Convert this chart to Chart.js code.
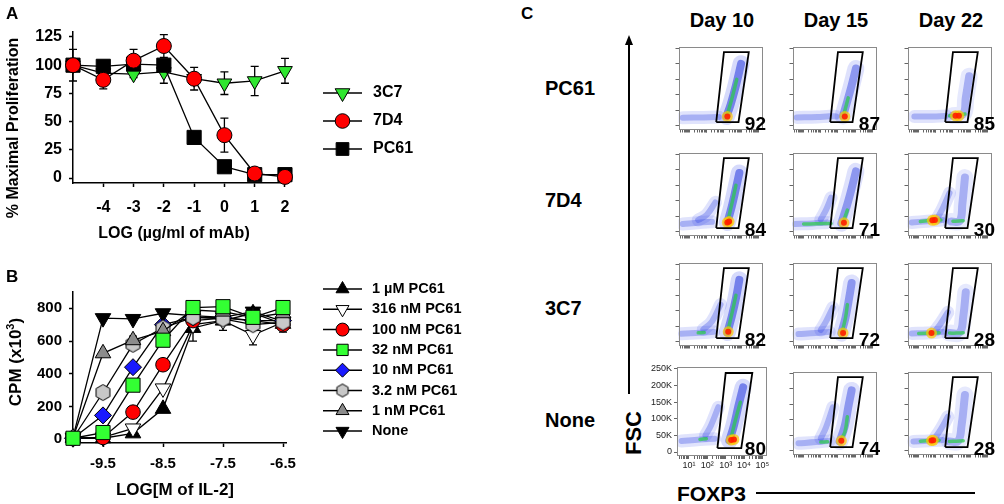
<!DOCTYPE html>
<html><head><meta charset="utf-8">
<script src="https://cdn.jsdelivr.net/npm/chart.js@4"></script>
<style>
body{margin:0;width:1004px;height:504px;background:#fff;position:relative;overflow:hidden;font-family:"Liberation Sans",Arial,sans-serif;font-weight:bold;color:#000}
canvas{position:absolute}
.t{position:absolute;white-space:nowrap;line-height:1}
.c{transform:translate(-50%,-50%)}
.r{transform:translate(-50%,-50%) rotate(-90deg)}
sup{font-size:65%;line-height:0;vertical-align:0.55em}
</style></head><body>
<canvas id="cA" width="440" height="250" style="left:0;top:0"></canvas>
<canvas id="cB" width="480" height="254" style="left:0;top:250px"></canvas>
<div class="t" style="left:6px;top:5px;font-size:17px">A</div>
<div class="t" style="left:6px;top:268px;font-size:17px">B</div>
<div class="t" style="left:521px;top:5px;font-size:17px">C</div>
<div class="t r" style="left:13px;top:128px;font-size:16px">% Maximal Proliferation</div>
<div class="t c" style="left:174px;top:233px;font-size:16px">LOG (µg/ml of mAb)</div>
<div class="t r" style="left:15px;top:362px;font-size:17px">CPM (x10<sup>3</sup>)</div>
<div class="t c" style="left:175px;top:489px;font-size:17px">LOG[M of IL-2]</div>
<div class="t r" style="left:634px;top:433px;font-size:22px">FSC</div>
<div class="t" style="left:677px;top:483px;font-size:21px">FOXP3</div>
<div style="position:absolute;left:756px;top:492px;width:219px;height:1.5px;background:#000"></div>
<div style="position:absolute;left:628px;top:44px;width:1.5px;height:350px;background:#000"></div>
<div style="position:absolute;left:624.7px;top:35px;width:0;height:0;border-left:4px solid transparent;border-right:4px solid transparent;border-bottom:10px solid #000"></div>
<div id="flow"></div>
<script>
// ---------- Panel A data ----------
const aX = [-5, -4, -3, -2, -1, 0, 1, 2];
const aXTicks = [-4, -3, -2, -1, 0, 1, 2];
const aYTicks = [0, 25, 50, 75, 100, 125];
const aNames = ['3C7', '7D4', 'PC61'];
const a3C7 = [100, 93, 92, 94, 88, 84, 86, 95];
const a7D4 = [100, 87, 104, 117, 88, 38, 4, 1];
const aPC61 = [100, 99, 101, 100, 36, 10, 3, 3];
const a3C7Err = [0, 4, 3, 10, 0, 10, 13, 11];
const a7D4Err = [14, 8, 10, 10, 10, 15, 0, 0];
const aPC61Err = [0, 0, 0, 0, 0, 0, 0, 0];

// ---------- Panel B data ----------
const bX = [-10, -9.5, -9, -8.5, -8, -7.5, -7, -6.5];
const bXTicks = [-9.5, -8.5, -7.5, -6.5];
const bYTicks = [0, 200, 400, 600, 800];
const bNames = ['1 µM PC61', '316 nM PC61', '100 nM PC61', '32 nM PC61', '10 nM PC61', '3.2 nM PC61', '1 nM PC61', 'None'];
const b1uM  = [5, 5, 35, 185, 680, 725, 770, 705];
const b316  = [5, 10, 65, 310, 700, 725, 637, 715];
const b100  = [5, 10, 165, 455, 725, 740, 725, 700];
const b32   = [5, 40, 330, 605, 805, 810, 745, 805];
const b10   = [5, 145, 440, 700, 745, 745, 725, 725];
const b3_2  = [5, 285, 580, 680, 745, 735, 700, 715];
const b1nM  = [10, 525, 605, 660, 790, 780, 745, 770];
const bNone = [10, 740, 735, 770, 755, 745, 780, 720];
const b1uMErr  = [0, 0, 0, 0, 0, 60, 0, 50];
const b316Err  = [0, 0, 0, 0, 100, 0, 60, 0];
const b100Err  = [0, 0, 0, 0, 0, 0, 0, 0];
const b32Err   = [0, 0, 0, 0, 0, 0, 0, 40];
const b10Err   = [0, 0, 0, 0, 0, 0, 0, 0];
const b3_2Err  = [0, 0, 0, 0, 0, 0, 0, 0];
const b1nMErr  = [0, 0, 25, 0, 0, 0, 0, 0];
const bNoneErr = [0, 0, 0, 0, 0, 0, 0, 0];

// ---------- Panel C data (x = log10 FOXP3, y = FSC in K) ----------
const rowNames = ['PC61', '7D4', '3C7', 'None'];
const dayNames = ['Day 10', 'Day 15', 'Day 22'];
const fcPct = [92, 87, 85, 84, 71, 30, 82, 72, 28, 80, 74, 28];
const gateX = [2.55, 3.85, 4.45, 3.0, 2.55];
const gateY = [12, 12, 238, 238, 12];
const fcYTicks = [0, 50, 100, 150, 200, 250];
const fcTail = [
 [[[0.6,26],[1.8,27],[2.7,28]]],
 [[[0.6,27],[1.8,28],[2.5,31],[2.9,30]]],
 [[[0.75,30],[1.8,30],[2.6,32]]],
 [[[0.6,25],[1.6,30],[2.3,32]],[[1.5,38],[2.0,55],[2.5,95]]],
 [[[0.5,25],[1.5,27],[2.4,30]],[[2.0,40],[2.3,70],[2.6,110]]],
 [[[0.6,30],[1.5,34],[2.4,38]],[[2.1,45],[2.4,75],[2.8,125]]],
 [[[0.5,26],[1.6,29],[2.4,32]],[[1.8,40],[2.3,65],[2.8,120]]],
 [[[0.7,25],[1.7,28],[2.5,32]],[[2.0,38],[2.3,65],[2.7,110]]],
 [[[0.6,27],[1.5,28],[2.4,32]],[[2.0,38],[2.3,60],[2.7,95]]],
 [[[0.6,33],[1.6,38],[2.4,40]],[[1.9,50],[2.2,80],[2.6,135]]],
 [[[0.7,24],[1.7,28],[2.5,32]],[[2.0,40],[2.3,75],[2.7,140]]],
 [[[0.7,30],[1.6,32],[2.4,35]],[[2.0,45],[2.3,70],[2.7,110]]]
];
const fcCol = [
 [[[3.15,30],[3.4,70],[3.7,130],[4.0,200]]],
 [[[3.3,32],[3.55,80],[3.8,130],[4.05,185]]],
 [[[3.0,33],[3.6,38],[3.75,90],[3.95,160]]],
 [[[3.2,30],[3.45,80],[3.7,140],[3.9,190]]],
 [[[3.2,28],[3.5,80],[3.8,140],[4.05,195]]],
 [[[2.9,33],[3.4,35],[3.55,90],[3.7,175]]],
 [[[3.2,30],[3.45,80],[3.7,140],[3.9,200]]],
 [[[3.2,28],[3.45,80],[3.65,140],[3.8,190]]],
 [[[2.8,28],[3.4,30],[3.6,80],[3.75,160]]],
 [[[3.2,35],[3.45,80],[3.7,140],[3.95,195]]],
 [[[3.1,30],[3.4,80],[3.6,140],[3.8,195]]],
 [[[2.8,30],[3.3,31],[3.5,80],[3.7,180]]]
];
const fcCore = [
 [[[3.2,38],[3.45,85],[3.75,150]]],
 [[[3.35,38],[3.6,90]]],
 [[[2.8,32],[3.3,33],[3.7,38]]],
 [[[3.25,40],[3.5,100],[3.7,150]]],
 [[[1.0,25],[1.7,26],[2.6,27]],[[3.3,30],[3.55,70]]],
 [[[1.1,33],[1.8,37],[2.3,38]],[[3.0,34],[3.35,35],[3.6,36]]],
 [[[1.5,29],[1.85,30]],[[3.25,40],[3.5,100],[3.7,150]]],
 [[[3.25,32],[3.45,80],[3.55,120]]],
 [[[1.0,27],[1.8,28],[2.2,29]],[[2.8,28],[3.2,28],[3.6,29]]],
 [[[1.6,38],[1.95,40]],[[3.3,45],[3.55,100],[3.8,150]]],
 [[[2.0,28],[2.4,29]],[[3.1,32],[3.4,60],[3.55,110]]],
 [[[1.1,31],[1.8,33],[2.2,34]],[[2.8,30],[3.2,31],[3.6,32]]]
];
const fcHot = [
 [[3.2,30]],
 [[3.4,30]],
 [[3.15,32],[3.35,32]],
 [[3.2,30],[3.3,33]],
 [[3.35,29]],
 [[1.8,37],[1.95,38]],
 [[3.25,32]],
 [[3.3,28]],
 [[1.75,28]],
 [[3.3,36],[3.45,38]],
 [[3.2,32]],
 [[1.75,33],[1.85,34]]
];

// ---------- setup ----------
Chart.defaults.font.family = '"Liberation Sans", "DejaVu Sans", Arial, sans-serif';
Chart.defaults.font.weight = 'bold';
Chart.defaults.color = '#000';
Chart.defaults.animation = false;

function hexCanvas(r, fill) {
  const s = Math.ceil(2 * r + 3), c = document.createElement('canvas');
  c.width = s; c.height = s;
  const g = c.getContext('2d');
  g.beginPath();
  for (let k = 0; k < 6; k++) {
    const a = k * Math.PI / 3;
    const px = s / 2 + Math.sin(a) * r, py = s / 2 - Math.cos(a) * r;
    k ? g.lineTo(px, py) : g.moveTo(px, py);
  }
  g.closePath(); g.fillStyle = fill; g.fill(); g.strokeStyle = '#000'; g.lineWidth = 1; g.stroke();
  return c;
}

function drawMarker(ctx, style, x, y, r, rot, fill) {
  ctx.save(); ctx.translate(x, y);
  if (style instanceof HTMLCanvasElement) { ctx.drawImage(style, -style.width / 2, -style.height / 2); ctx.restore(); return; }
  ctx.fillStyle = fill; ctx.strokeStyle = '#000'; ctx.lineWidth = 1;
  ctx.rotate((rot || 0) * Math.PI / 180); ctx.beginPath();
  if (style === 'circle') ctx.arc(0, 0, r, 0, 2 * Math.PI);
  else if (style === 'triangle') {
    for (let k = 0; k < 3; k++) { const a = k * 2 * Math.PI / 3; const px = Math.sin(a) * r, py = -Math.cos(a) * r; k ? ctx.lineTo(px, py) : ctx.moveTo(px, py); }
    ctx.closePath();
  } else if (style === 'rect') { const s = r * Math.SQRT1_2; ctx.rect(-s, -s, 2 * s, 2 * s); }
  else if (style === 'rectRot') { ctx.moveTo(0, -r); ctx.lineTo(r, 0); ctx.lineTo(0, r); ctx.lineTo(-r, 0); ctx.closePath(); }
  ctx.fill(); ctx.stroke(); ctx.restore();
}

const errorBars = {
  id: 'errorBars',
  beforeDatasetsDraw(chart) {
    const ctx = chart.ctx, xs = chart.scales.x, ys = chart.scales.y;
    ctx.save(); ctx.strokeStyle = '#000'; ctx.lineWidth = 1.3;
    chart.data.datasets.forEach(ds => {
      if (!ds.err) return;
      ds.data.forEach((p, i) => {
        const e = ds.err[i]; if (!e) return;
        const x = xs.getPixelForValue(p.x), y1 = ys.getPixelForValue(p.y + e), y0 = ys.getPixelForValue(p.y - e);
        ctx.beginPath(); ctx.moveTo(x, y0); ctx.lineTo(x, y1);
        ctx.moveTo(x - 4, y0); ctx.lineTo(x + 4, y0); ctx.moveTo(x - 4, y1); ctx.lineTo(x + 4, y1); ctx.stroke();
      });
    });
    ctx.restore();
  }
};

const sideLegend = {
  id: 'sideLegend',
  afterDraw(chart, args, o) {
    if (!o || !o.x0) return;
    const ctx = chart.ctx; ctx.save();
    o.order.forEach((di, i) => {
      const ds = chart.data.datasets[di], y = o.y0 + i * o.dy;
      ctx.strokeStyle = '#000'; ctx.lineWidth = 1.5;
      ctx.beginPath(); ctx.moveTo(o.x0, y); ctx.lineTo(o.x1, y); ctx.stroke();
      drawMarker(ctx, ds.legendImg || ds.pointStyle, (o.x0 + o.x1) / 2, y, ds.legendR, ds.pointRotation, ds.pointBackgroundColor);
      ctx.fillStyle = '#000'; ctx.font = o.font; ctx.textBaseline = 'middle'; ctx.textAlign = 'left';
      ctx.fillText(ds.label, o.tx, y);
    });
    ctx.restore();
  }
};

function series(label, xs, ys, err, style, rot, fill, r, lr, ord, img, limg) {
  return {
    label, data: xs.map((x, i) => ({ x, y: ys[i] })), err,
    borderColor: '#000', borderWidth: 1.3, tension: 0,
    pointStyle: img || style, pointRotation: rot, pointBackgroundColor: fill, pointBorderColor: '#000',
    pointBorderWidth: 1, pointRadius: r, pointHoverRadius: r, legendR: lr, legendImg: limg, order: ord, clip: false
  };
}

function axisCommon(size, pad) {
  return {
    grid: { display: true, drawOnChartArea: false, drawTicks: true, tickLength: 4, tickWidth: 1.5, tickColor: '#000' },
    border: { display: true, color: '#000', width: 1.5 },
    ticks: { font: { size: size, weight: 'bold' }, color: '#000', autoSkip: false, maxRotation: 0, padding: pad, callback: v => String(v) }
  };
}

// ---------- Chart A ----------
{
  const xa = axisCommon(16, 11), ya = axisCommon(16, 7);
  new Chart(document.getElementById('cA'), {
    type: 'line',
    data: { datasets: [
      series(aNames[0], aX, a3C7, a3C7Err, 'triangle', 180, '#2fe62f', 8.5, 8.5, 2),
      series(aNames[1], aX, a7D4, a7D4Err, 'circle', 0, '#ff0000', 7.5, 7.3, 0),
      series(aNames[2], aX, aPC61, aPC61Err, 'rect', 0, '#000000', 10, 9, 1)
    ]},
    options: {
      responsive: false, events: [],
      layout: { padding: { top: 32, right: 152, left: 0, bottom: 0 } },
      plugins: { legend: { display: false }, tooltip: { enabled: false },
        sideLegend: { x0: 323, x1: 362, tx: 373, y0: 93, dy: 28, font: 'bold 16px "Liberation Sans", Arial, sans-serif', order: [0, 1, 2] } },
      scales: {
        x: Object.assign(xa, { type: 'linear', min: -5, max: 2.1,
          afterBuildTicks: s => { s.ticks = aXTicks.map(v => ({ value: v })); },
          afterFit: s => { s.height = 67; } }),
        y: Object.assign(ya, { type: 'linear', min: -4.4, max: 129.4,
          afterBuildTicks: s => { s.ticks = aYTicks.map(v => ({ value: v })); },
          afterFit: s => { s.width = 73; } })
      }
    },
    plugins: [errorBars, sideLegend]
  });
}

// ---------- Chart B ----------
{
  const hexBig = hexCanvas(8, '#c8c8c8'), hexSmall = hexCanvas(6.5, '#c8c8c8');
  const xb = axisCommon(15, 8), yb = axisCommon(15, 7);
  new Chart(document.getElementById('cB'), {
    type: 'line',
    data: { datasets: [
      series(bNames[0], bX, b1uM, b1uMErr, 'triangle', 0, '#000000', 9, 7.5, 7),
      series(bNames[1], bX, b316, b316Err, 'triangle', 180, '#ffffff', 9, 7.5, 6),
      series(bNames[2], bX, b100, b100Err, 'circle', 0, '#ff0000', 7.3, 6.5, 5),
      series(bNames[3], bX, b32, b32Err, 'rect', 0, '#33ff33', 10, 8, 0),
      series(bNames[4], bX, b10, b10Err, 'rectRot', 0, '#1a1aff', 8.5, 7, 4),
      series(bNames[5], bX, b3_2, b3_2Err, 'circle', 0, '#c8c8c8', 8, 6.5, 2, hexBig, hexSmall),
      series(bNames[6], bX, b1nM, b1nMErr, 'triangle', 0, '#8c8c8c', 9, 7.5, 1),
      series(bNames[7], bX, bNone, bNoneErr, 'triangle', 180, '#000000', 9, 7.5, 3)
    ]},
    options: {
      responsive: false, events: [],
      layout: { padding: { top: 42, right: 194, left: 0, bottom: 0 } },
      plugins: { legend: { display: false }, tooltip: { enabled: false },
        sideLegend: { x0: 323, x1: 362, tx: 372, y0: 39, dy: 20.3, font: 'bold 14.5px "Liberation Sans", Arial, sans-serif', order: [0, 1, 2, 3, 4, 5, 6, 7] } },
      scales: {
        x: Object.assign(xb, { type: 'linear', min: -10, max: -6.45,
          afterBuildTicks: s => { s.ticks = bXTicks.map(v => ({ value: v })); },
          afterFit: s => { s.height = 61; } }),
        y: Object.assign(yb, { type: 'linear', min: -24, max: 900,
          afterBuildTicks: s => { s.ticks = bYTicks.map(v => ({ value: v })); },
          afterFit: s => { s.width = 73; } })
      }
    },
    plugins: [errorBars, sideLegend]
  });
}

// ---------- Panel C ----------
const colLeft = [677, 791, 906], rowTop = [42, 148, 258, 367], BW = 90, BH = 89;
const dens = [1, 0.8, 0.6];
const sup = ['⁰', '¹', '²', '³', '⁴', '⁵'];
const flowDiv = document.getElementById('flow');
const boxPlugin = {
  id: 'box',
  afterDatasetsDraw(chart) {
    const a = chart.chartArea, ctx = chart.ctx;
    ctx.save(); ctx.strokeStyle = '#8a8a8a'; ctx.lineWidth = 1;
    ctx.strokeRect(Math.round(a.left) + 0.5, Math.round(a.top) + 0.5, Math.round(a.right - a.left) - 1, Math.round(a.bottom - a.top) - 1);
    ctx.restore();
  }
};
function toXY(arr) { return arr.map(p => ({ x: p[0], y: p[1] })); }
function addText(txt, css) { const d = document.createElement('div'); d.className = 't'; d.textContent = txt; d.style.cssText = css; document.body.appendChild(d); }

dayNames.forEach((d, c) => addText(d, `left:${colLeft[c] + BW / 2}px;top:20px;font-size:20px;transform:translate(-50%,-50%)`));
const rowLabelY = [88, 200, 308, 420];
rowNames.forEach((n, r) => addText(n, `left:545px;top:${rowLabelY[r]}px;font-size:20px;transform:translateY(-50%)`));

for (let r = 0; r < 4; r++) for (let c = 0; c < 3; c++) {
  const i = r * 3 + c, labeled = (r === 3 && c === 0);
  const yW = labeled ? 36 : 4, xH = labeled ? 24 : 4, padR = labeled ? 12 : 1, padT = labeled ? 8 : 1;
  const cv = document.createElement('canvas');
  cv.width = yW + BW + padR; cv.height = padT + BH + xH;
  cv.style.left = (colLeft[c] - yW) + 'px'; cv.style.top = (rowTop[r] - padT) + 'px';
  flowDiv.appendChild(cv);
  const k = dens[c];
  const base = { pointRadius: 0, pointHoverRadius: 0, tension: 0.4, fill: false, clip: 0, borderCapStyle: 'round', borderJoinStyle: 'round' };
  const ds = [];
  fcTail[i].forEach(pl => {
    ds.push(Object.assign({}, base, { data: toXY(pl), borderColor: 'rgba(60,80,235,0.16)', borderWidth: 13, order: 9 }));
    ds.push(Object.assign({}, base, { data: toXY(pl), borderColor: 'rgba(35,55,225,0.3)', borderWidth: 6, order: 8 }));
  });
  fcCol[i].forEach(pl => {
    ds.push(Object.assign({}, base, { data: toXY(pl), borderColor: `rgba(50,70,235,${0.2 * k})`, borderWidth: 17, order: 7 }));
    ds.push(Object.assign({}, base, { data: toXY(pl), borderColor: `rgba(20,40,220,${0.5 * k})`, borderWidth: 8, order: 6 }));
  });
  fcCore[i].forEach(pl => ds.push(Object.assign({}, base, { data: toXY(pl), borderColor: 'rgba(40,205,70,0.7)', borderWidth: 3.5, order: 5 })));
  ds.push(Object.assign({}, base, { data: toXY(fcHot[i]), showLine: false, pointRadius: 5.5, pointBackgroundColor: 'rgba(255,200,0,0.7)', pointBorderWidth: 0, order: 4 }));
  ds.push(Object.assign({}, base, { data: toXY(fcHot[i]), showLine: false, pointRadius: 3, pointBackgroundColor: 'rgba(255,30,0,0.9)', pointBorderWidth: 0, order: 3 }));
  ds.push(Object.assign({}, base, { data: gateX.map((x, j) => ({ x, y: gateY[j] })), borderColor: '#000', borderWidth: 1.8, tension: 0, borderCapStyle: 'butt', borderJoinStyle: 'miter', order: 1 }));
  new Chart(cv, {
    type: 'line',
    data: { datasets: ds },
    options: {
      responsive: false, events: [],
      layout: { padding: { top: padT, right: padR, left: 0, bottom: 0 } },
      plugins: { legend: { display: false }, tooltip: { enabled: false } },
      scales: {
        x: { type: 'linear', min: 0.35, max: 5.25,
          grid: { display: true, drawOnChartArea: false, drawTicks: true, tickLength: 3, tickWidth: 1, tickColor: '#666' },
          border: { display: false },
          ticks: { display: labeled, autoSkip: false, maxRotation: 0, padding: 1, color: '#222', font: { size: 9, weight: 'normal' },
            callback: v => (Number.isInteger(v) && v >= 1) ? '10' + sup[v] : '' },
          afterBuildTicks: s => { const t = []; for (let n = 0; n <= 5; n++) for (let q = 1; q < 10; q++) { const v = n + Math.log10(q); if (v >= 0.35 && v <= 5.25) t.push({ value: v }); } s.ticks = t; },
          afterFit: s => { s.height = xH; } },
        y: { type: 'linear', min: -12, max: 256,
          grid: { display: true, drawOnChartArea: false, drawTicks: true, tickLength: 3, tickWidth: 1, tickColor: '#666' },
          border: { display: false },
          ticks: { display: labeled, autoSkip: false, padding: 2, color: '#222', font: { size: 9, weight: 'normal' },
            callback: v => v === 0 ? '0' : v + 'K' },
          afterBuildTicks: s => { s.ticks = fcYTicks.map(v => ({ value: v })); },
          afterFit: s => { s.width = yW; } }
      }
    },
    plugins: [boxPlugin]
  });
  addText(String(fcPct[i]), `left:${colLeft[c] + BW - 1}px;top:${rowTop[r] + BH - 17}px;font-size:19px;transform:translateX(-100%)`);
}
</script>
</body></html>
